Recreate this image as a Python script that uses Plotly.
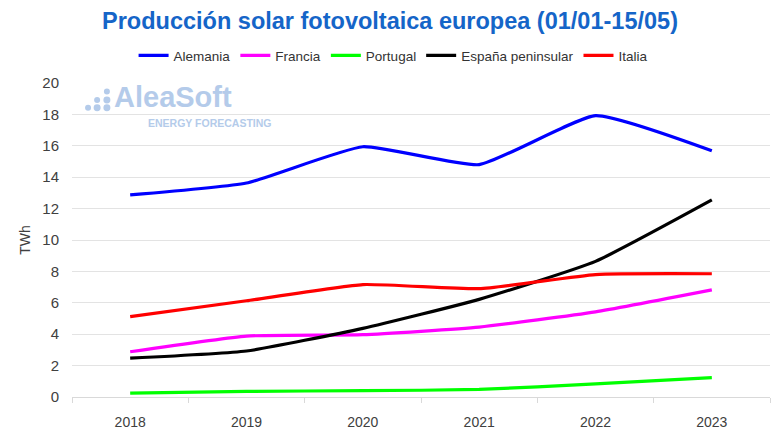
import plotly.graph_objects as go

years = ["2018", "2019", "2020", "2021", "2022", "2023"]
alemania = [12.87, 13.63, 15.94, 14.8, 17.92, 15.68]
francia = [2.88, 3.88, 3.97, 4.45, 5.42, 6.82]
portugal = [0.25, 0.36, 0.4, 0.48, 0.83, 1.24]
espana = [2.47, 2.93, 4.37, 6.22, 8.64, 12.55]
italia = [5.12, 6.13, 7.16, 6.9, 7.8, 7.85]

series = [
    ("Alemania", alemania, "#0000FF"),
    ("Francia", francia, "#FF00FF"),
    ("Portugal", portugal, "#00FF00"),
    ("España peninsular", espana, "#000000"),
    ("Italia", italia, "#FF0000"),
]

fig = go.Figure()
for name, vals, col in series:
    fig.add_trace(go.Scatter(
        x=years, y=vals, name=name, mode="lines",
        line=dict(color=col, width=3.2, shape="spline", smoothing=0.45),
    ))

sans = "Liberation Sans, Arial, sans-serif"

fig.update_layout(
    width=780, height=440,
    paper_bgcolor="white", plot_bgcolor="white",
    margin=dict(l=72, r=10, t=83, b=41),
    title=dict(
        text="<b>Producción solar fotovoltaica europea (01/01-15/05)</b>",
        x=0.5, xanchor="center", y=0.953, yanchor="middle",
        font=dict(family=sans, size=23.5, color="#1565C8"),
    ),
    legend=dict(
        orientation="h", x=0.46, xanchor="center", y=1.087, yanchor="middle",
        font=dict(family=sans, size=13.5, color="#333333"),
        itemwidth=30, tracegroupgap=0,
    ),
    showlegend=True,
)

fig.update_xaxes(
    type="category", range=[-0.5, 5.5],
    tickson="boundaries", ticks="outside", ticklen=5, tickcolor="#d9d9d9",
    showline=True, linecolor="#d9d9d9", linewidth=1,
    showgrid=False,
    tickfont=dict(family=sans, size=14, color="#404040"),
    ticklabelstandoff=12,
)
fig.update_yaxes(
    range=[0, 20], dtick=2, showgrid=True, gridcolor="#e3e3e3", gridwidth=1,
    zeroline=False, showline=False,
    tickfont=dict(family=sans, size=15, color="#404040"),
    ticklabelstandoff=12,
    title=dict(text="TWh", font=dict(family=sans, size=14, color="#404040"), standoff=8),
)

# AleaSoft watermark
logo_col = "#B4CBEA"
fig.add_annotation(
    xref="paper", yref="paper", x=0.058, y=0.957, xanchor="left", yanchor="middle",
    text="<b>AleaSoft</b>", showarrow=False,
    font=dict(family=sans, size=29, color=logo_col),
)
fig.add_annotation(
    xref="paper", yref="paper", x=0.106, y=0.872, xanchor="left", yanchor="middle",
    text="<b>ENERGY FORECASTING</b>", showarrow=False,
    font=dict(family=sans, size=10.5, color=logo_col),
)
dots = [(0.023, 0.921, 3), (0.036, 0.921, 3.5), (0.036, 0.946, 3), (0.05, 0.921, 3.5), (0.05, 0.946, 3.5), (0.05, 0.973, 3)]
for dx, dy, r in dots:
    fig.add_shape(
        type="circle", xref="paper", yref="paper",
        x0=dx - r / 698, x1=dx + r / 698, y0=dy - r / 316, y1=dy + r / 316,
        fillcolor=logo_col, line=dict(width=0),
    )

fig.write_html("out.html")
